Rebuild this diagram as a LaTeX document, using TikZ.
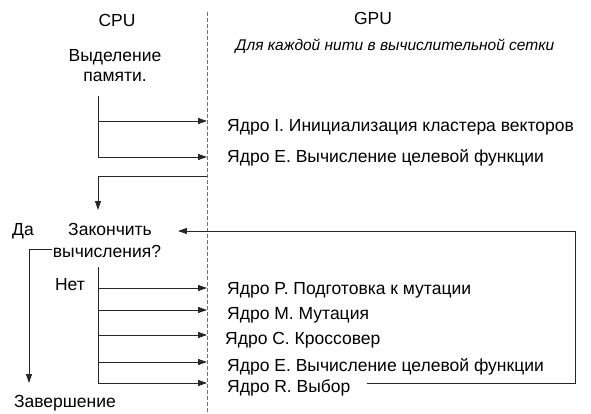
\documentclass[tikz,border=0pt]{standalone}
\usepackage{fontspec}
\setmainfont{Liberation Sans}
\usetikzlibrary{arrows.meta}
\begin{document}
\begin{tikzpicture}[x=1pt,y=-1pt,
  lbl/.style={inner sep=0pt, anchor=base, font=\fontsize{17.5}{20}\selectfont},
  kern/.style={lbl, anchor=base west},
  wire/.style={draw=black!85, line width=0.8pt},
  flow/.style={wire, -{Triangle[length=9pt,width=6pt]}}]
\useasboundingbox (0,0) rectangle (591,414);

% CPU / GPU divider
\draw[black!55, line width=0.9pt, dash pattern=on 4pt off 2pt] (207,12) -- (207,414);

% headings
\node[lbl] (cpu) at (117,27) {CPU};
\node[lbl] (gpu) at (373,25) {GPU};
\node[inner sep=0pt, anchor=base, font=\fontsize{15.5}{18}\selectfont\itshape] (grid) at (395,51) {Для каждой нити в вычислительной сетки};

% host side
\node[lbl] (alloc1) at (115,62) {Выделение};
\node[lbl] (alloc2) at (115,82) {памяти.};
\node[lbl] (done1) at (110,235) {Закончить};
\node[lbl] (done2) at (107,257) {вычисления?};
\node[lbl] (yes) at (23,235) {Да};
\node[lbl] (no) at (70,290) {Нет};
\node[lbl] (fin) at (65,407) {Завершение};

% device kernels
\node[kern] (kI) at (227,132) {Ядро I. Инициализация кластера векторов};
\node[kern] (kE1) at (227,163) {Ядро E. Вычисление целевой функции};
\node[kern] (kP) at (227,294) {Ядро P. Подготовка к мутации};
\node[kern] (kM) at (227,319) {Ядро M. Мутация};
\node[kern] (kC) at (225,344) {Ядро C. Кроссовер};
\node[kern] (kE2) at (227,371) {Ядро E. Вычисление целевой функции};
\node[kern] (kR) at (227,392) {Ядро R. Выбор};

% launch points on the divider and taps on the host line
\foreach \n/\y in {a/121, b/157, p/288, m/310, c/335, e/362, r/383} {
  \coordinate (g\n) at (207,\y);
  \coordinate (h\n) at (98,\y);
}

% initial launches
\draw[wire] (98,96) -- (hb);
\draw[flow] (ha) -- (ga);
\draw[flow] (hb) -- (gb);

% return to host and test
\coordinate (ret) at (207,176);
\coordinate (test) at (98,210);
\draw[flow] (ret) -| (test);

% exit branch
\coordinate (ys) at ([xshift=-1pt]done2.west |- 0,249);
\coordinate (yend) at (29,383);
\draw[flow] (ys) -| (yend);

% loop body launches
\draw[wire] (98,267) -- (hr);
\foreach \n in {p,m,c,e,r} \draw[flow] (h\n) -- (g\n);

% back to the test
\coordinate (rs) at ([xshift=16pt]kR.east |- 0,383);
\coordinate (lp) at ([xshift=26pt]done1.east |- 0,231);
\draw[flow] (rs) -- (575,383) |- (lp);
\end{tikzpicture}
\end{document}
